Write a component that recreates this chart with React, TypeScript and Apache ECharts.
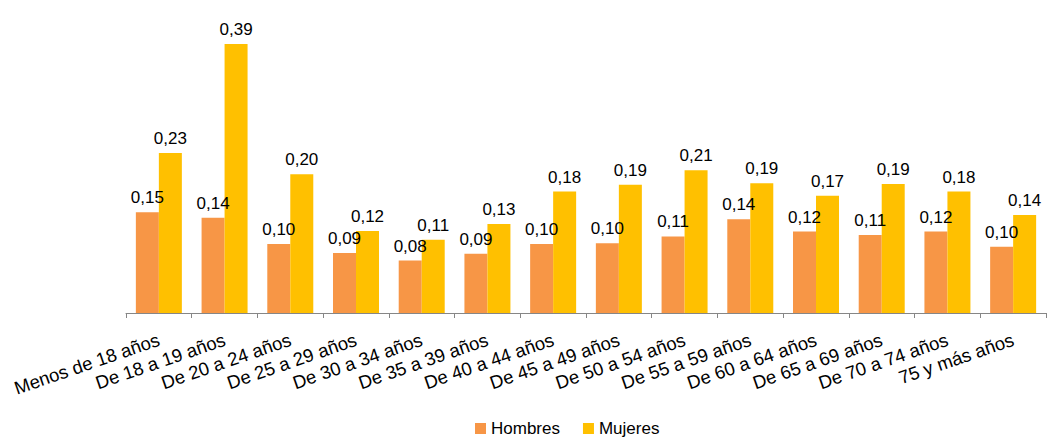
import React, { useEffect, useRef } from "react";
import * as echarts from "echarts";

const categories = [
  "Menos de 18 años",
  "De 18 a 19 años",
  "De 20 a 24 años",
  "De 25 a 29 años",
  "De 30 a 34 años",
  "De 35 a 39 años",
  "De 40 a 44 años",
  "De 45 a 49 años",
  "De 50 a 54 años",
  "De 55 a 59 años",
  "De 60 a 64 años",
  "De 65 a 69 años",
  "De 70 a 74 años",
  "75 y más años",
];

const hombres = [0.146, 0.138, 0.1, 0.087, 0.076, 0.086, 0.1, 0.101, 0.111, 0.136, 0.118, 0.113, 0.118, 0.096];
const mujeres = [0.232, 0.39, 0.201, 0.119, 0.106, 0.129, 0.176, 0.186, 0.207, 0.188, 0.17, 0.187, 0.176, 0.142];

const FONT = "'Liberation Sans', Arial, sans-serif";

const fmt = (p: any) => Number(p.value).toFixed(2).replace(".", ",");

export default function App() {
  const ref = useRef<HTMLDivElement>(null);
  useEffect(() => {
    if (!ref.current) return;
    const chart = echarts.init(ref.current, undefined, { renderer: "svg" });
    const labelStyle = {
      show: true,
      position: "top" as const,
      distance: 6,
      formatter: fmt,
      color: "#000",
      fontSize: 17,
      fontFamily: FONT,
    };
    chart.setOption({
      animation: false,
      textStyle: { fontFamily: FONT },
      grid: { left: 126, right: 2, top: 37, bottom: 124, containLabel: false },
      legend: {
        left: 470,
        top: 415,
        itemWidth: 11,
        itemHeight: 11,
        itemGap: 23,
        icon: "rect",
        textStyle: { fontSize: 17, color: "#000", fontFamily: FONT },
        data: ["Hombres", "Mujeres"],
      },
      xAxis: {
        type: "category",
        data: categories,
        boundaryGap: true,
        axisLine: { show: true, lineStyle: { color: "#868686", width: 1 } },
        axisTick: { show: true, length: 5, alignWithLabel: false, lineStyle: { color: "#868686" } },
        axisLabel: {
          interval: 0,
          rotate: 19,
          margin: 26,
          fontSize: 18.5,
          color: "#000",
          fontFamily: FONT,
        },
      },
      yAxis: {
        type: "value",
        min: 0,
        max: 0.4,
        show: false,
        splitLine: { show: false },
      },
      series: [
        {
          name: "Hombres",
          type: "bar",
          data: hombres,
          barGap: "0%",
          barCategoryGap: "30%",
          itemStyle: { color: "#F79646" },
          label: labelStyle,
        },
        {
          name: "Mujeres",
          type: "bar",
          data: mujeres,
          barGap: "0%",
          barCategoryGap: "30%",
          itemStyle: { color: "#FFC000" },
          label: labelStyle,
        },
      ],
    });
    return () => chart.dispose();
  }, []);
  return (
    <div
      ref={ref}
      style={{ position: "fixed", left: 0, top: 0, width: 1048, height: 437, background: "#fff" }}
    />
  );
}
